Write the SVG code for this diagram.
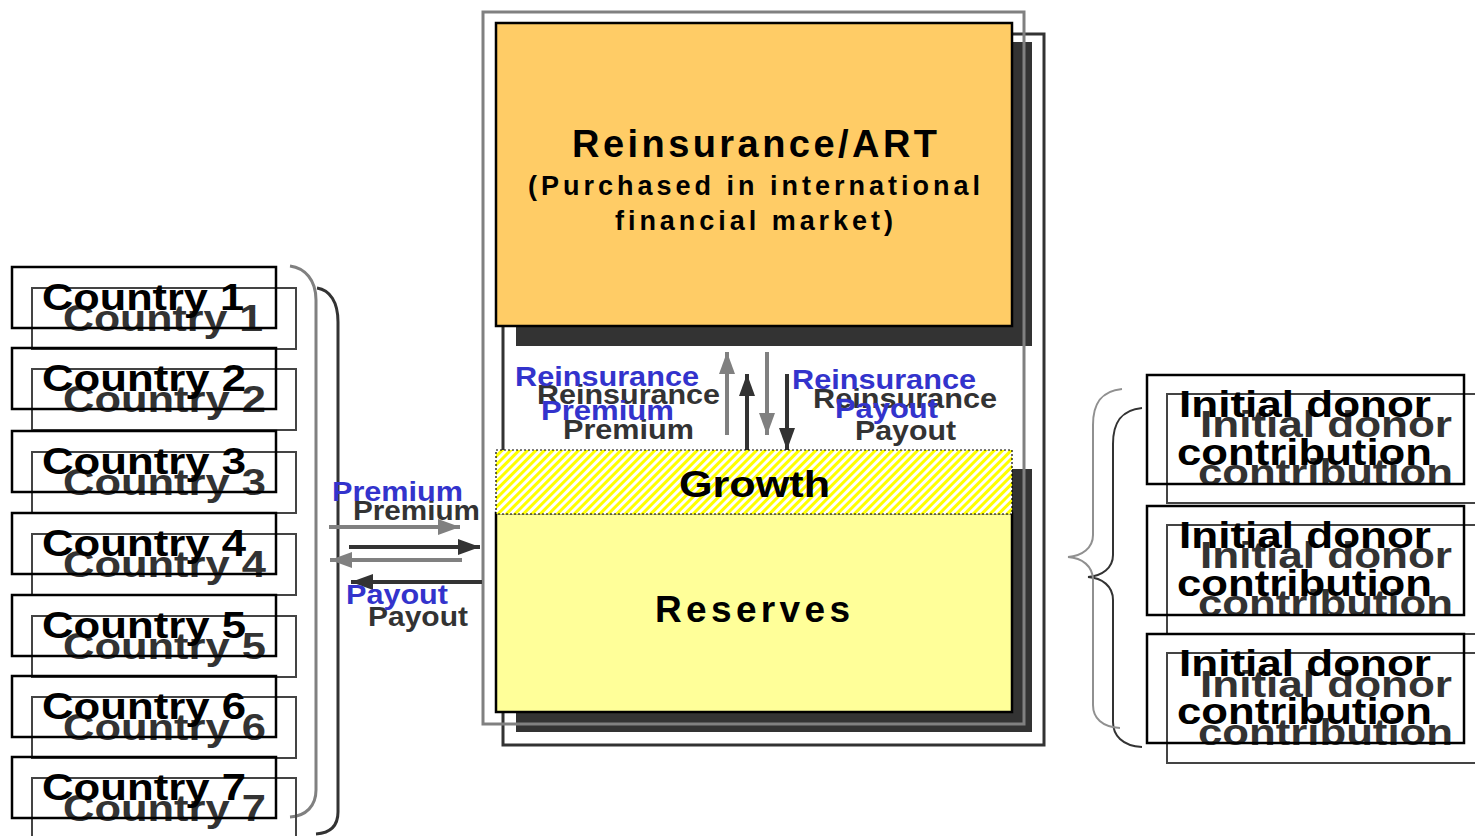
<svg xmlns="http://www.w3.org/2000/svg" width="1475" height="836" viewBox="0 0 1475 836">
<style>
text{font-family:"Liberation Sans",Arial,sans-serif;font-weight:bold}
.fr{fill:#000}
.sh{fill:#333}
.bl{fill:#3333CC}
.fbox{fill:none;stroke:#000;stroke-width:2.5}
.sbox{fill:none;stroke:#444;stroke-width:2}
.c{font-size:36px}
.lab{font-size:28px}
.big{font-size:37px}
.ga{stroke:#808080;stroke-width:4;fill:none}
.da{stroke:#333;stroke-width:4;fill:none}
</style>
<defs>
<marker id="hg" markerUnits="userSpaceOnUse" markerWidth="22" markerHeight="16" refX="22" refY="8" orient="auto"><path d="M0,0 L22,8 L0,16 z" fill="#808080"/></marker>
<marker id="hd" markerUnits="userSpaceOnUse" markerWidth="22" markerHeight="16" refX="22" refY="8" orient="auto"><path d="M0,0 L22,8 L0,16 z" fill="#333"/></marker>
<pattern id="hatch" patternUnits="userSpaceOnUse" width="6" height="6" patternTransform="rotate(45)"><rect width="6" height="6" fill="#fff"/><rect width="3" height="6" fill="#FFFF00"/></pattern>
</defs>
<rect width="1475" height="836" fill="#fff"/>

<!-- background frames and shadows -->
<g id="frames">
<rect x="503" y="34" width="541" height="711" fill="none" stroke="#333" stroke-width="3"/>
<rect x="516" y="42" width="516" height="304" fill="#333"/>
<rect x="516" y="469" width="516" height="263" fill="#333"/>
<rect x="483" y="12" width="541" height="712" fill="none" stroke="#808080" stroke-width="3"/>
</g>

<!-- braces -->
<g id="braces">
<path d="M317,288 C330,290 338,302 338,322 L338,812 C338,826 330,833 316,834" fill="none" stroke="#333" stroke-width="3"/>
<path d="M290,266 C305,268 316,280 316,300 L316,790 C316,806 306,816 290,817" fill="none" stroke="#808080" stroke-width="3"/>
<path d="M1142,408 C1120,410 1113,424 1113,444 L1113,555 C1113,568 1102,576 1088,577 C1102,578 1113,586 1113,600 L1113,722 C1113,735 1122,746 1142,747" fill="none" stroke="#333" stroke-width="2"/>
<path d="M1122,389 C1100,391 1093,405 1093,425 L1093,535 C1093,548 1082,556 1068,557 C1082,558 1093,566 1093,580 L1093,705 C1093,718 1102,727 1120,728" fill="none" stroke="#909090" stroke-width="2"/>
</g>

<!-- connectors -->
<g id="connectors">
<line class="da" x1="349" y1="547" x2="480" y2="547" marker-end="url(#hd)"/>
<line class="da" x1="482" y1="582" x2="351" y2="582" marker-end="url(#hd)"/>
<line class="ga" x1="329" y1="527" x2="460" y2="527" marker-end="url(#hg)"/>
<line class="ga" x1="462" y1="560" x2="330" y2="560" marker-end="url(#hg)"/>
<line class="da" x1="747" y1="450" x2="747" y2="374" marker-end="url(#hd)"/>
<line class="da" x1="787" y1="374" x2="787" y2="450" marker-end="url(#hd)"/>
<line class="ga" x1="727" y1="435" x2="727" y2="352" marker-end="url(#hg)"/>
<line class="ga" x1="767" y1="352" x2="767" y2="435" marker-end="url(#hg)"/>
</g>

<!-- connector labels -->
<g id="labels" class="lab">
<text class="sh" x="353" y="520" textLength="127" lengthAdjust="spacingAndGlyphs" style="font-size:27px">Premium</text>
<text class="bl" x="332" y="501" textLength="131" lengthAdjust="spacingAndGlyphs" style="font-size:27px">Premium</text>
<text class="sh" x="368" y="626" textLength="100" lengthAdjust="spacingAndGlyphs" style="font-size:27px">Payout</text>
<text class="bl" x="346" y="604" textLength="102" lengthAdjust="spacingAndGlyphs" style="font-size:27px">Payout</text>
<text class="sh" x="537" y="404" textLength="183" lengthAdjust="spacingAndGlyphs">Reinsurance</text>
<text class="sh" x="563" y="439" textLength="131" lengthAdjust="spacingAndGlyphs">Premium</text>
<text class="bl" x="515" y="386" textLength="184" lengthAdjust="spacingAndGlyphs">Reinsurance</text>
<text class="bl" x="541" y="420" textLength="133" lengthAdjust="spacingAndGlyphs">Premium</text>
<text class="sh" x="813" y="408" textLength="184" lengthAdjust="spacingAndGlyphs">Reinsurance</text>
<text class="sh" x="855" y="440" textLength="101" lengthAdjust="spacingAndGlyphs">Payout</text>
<text class="bl" x="792" y="389" textLength="184" lengthAdjust="spacingAndGlyphs">Reinsurance</text>
<text class="bl" x="835" y="418" textLength="103" lengthAdjust="spacingAndGlyphs">Payout</text>
</g>

<!-- reinsurance node -->
<g id="reinsurance">
<rect x="496" y="23" width="516" height="303" fill="#FFCC66" stroke="#000" stroke-width="2.5"/>
<text class="fr" x="572" y="157" textLength="365" style="font-size:38px">Reinsurance/ART</text>
<text class="fr" x="528" y="195" textLength="452" style="font-size:27px">(Purchased in international</text>
<text class="fr" x="615" y="230" textLength="278" style="font-size:27px">financial market)</text>
</g>

<!-- fund node -->
<g id="fund">
<rect x="496" y="513" width="516" height="199" fill="#FFFF99" stroke="#000" stroke-width="2.5"/>
<rect x="496" y="450" width="516" height="64" fill="url(#hatch)" stroke="#000" stroke-width="1.2" stroke-dasharray="2,2"/>
<text class="fr big" x="679" y="497" textLength="151" lengthAdjust="spacingAndGlyphs">Growth</text>
<text class="fr big" x="655" y="622" textLength="195">Reserves</text>
</g>

<!-- countries -->
<g id="country1">
<rect class="sbox" x="32" y="288" width="264" height="61"/>
<text class="sh c" x="63" y="331" textLength="200" lengthAdjust="spacingAndGlyphs">Country 1</text>
<rect class="fbox" x="12" y="267" width="264" height="61"/>
<text class="fr c" x="42" y="310" textLength="202" lengthAdjust="spacingAndGlyphs">Country 1</text>
</g>
<g id="country2">
<rect class="sbox" x="32" y="369" width="264" height="61"/>
<text class="sh c" x="63" y="412" textLength="203" lengthAdjust="spacingAndGlyphs">Country 2</text>
<rect class="fbox" x="12" y="348" width="264" height="61"/>
<text class="fr c" x="42" y="391" textLength="204" lengthAdjust="spacingAndGlyphs">Country 2</text>
</g>
<g id="country3">
<rect class="sbox" x="32" y="452" width="264" height="61"/>
<text class="sh c" x="63" y="495" textLength="203" lengthAdjust="spacingAndGlyphs">Country 3</text>
<rect class="fbox" x="12" y="431" width="264" height="61"/>
<text class="fr c" x="42" y="474" textLength="204" lengthAdjust="spacingAndGlyphs">Country 3</text>
</g>
<g id="country4">
<rect class="sbox" x="32" y="534" width="264" height="61"/>
<text class="sh c" x="63" y="577" textLength="203" lengthAdjust="spacingAndGlyphs">Country 4</text>
<rect class="fbox" x="12" y="513" width="264" height="61"/>
<text class="fr c" x="42" y="556" textLength="204" lengthAdjust="spacingAndGlyphs">Country 4</text>
</g>
<g id="country5">
<rect class="sbox" x="32" y="616" width="264" height="61"/>
<text class="sh c" x="63" y="659" textLength="203" lengthAdjust="spacingAndGlyphs">Country 5</text>
<rect class="fbox" x="12" y="595" width="264" height="61"/>
<text class="fr c" x="42" y="638" textLength="204" lengthAdjust="spacingAndGlyphs">Country 5</text>
</g>
<g id="country6">
<rect class="sbox" x="32" y="697" width="264" height="61"/>
<text class="sh c" x="63" y="740" textLength="203" lengthAdjust="spacingAndGlyphs">Country 6</text>
<rect class="fbox" x="12" y="676" width="264" height="61"/>
<text class="fr c" x="42" y="719" textLength="204" lengthAdjust="spacingAndGlyphs">Country 6</text>
</g>
<g id="country7">
<rect class="sbox" x="32" y="778" width="264" height="61"/>
<text class="sh c" x="63" y="821" textLength="203" lengthAdjust="spacingAndGlyphs">Country 7</text>
<rect class="fbox" x="12" y="757" width="264" height="61"/>
<text class="fr c" x="42" y="800" textLength="204" lengthAdjust="spacingAndGlyphs">Country 7</text>
</g>

<!-- donors -->
<g id="donor1">
<rect class="sbox" x="1167" y="394" width="320" height="109"/>
<text class="sh c" x="1200" y="437" textLength="252" lengthAdjust="spacingAndGlyphs">Initial donor</text>
<text class="sh c" x="1198" y="485" textLength="255" lengthAdjust="spacingAndGlyphs">contribution</text>
<rect class="fbox" x="1147" y="375" width="317" height="109"/>
<text class="fr c" x="1179" y="417" textLength="252" lengthAdjust="spacingAndGlyphs">Initial donor</text>
<text class="fr c" x="1177" y="465" textLength="255" lengthAdjust="spacingAndGlyphs">contribution</text>
</g>
<g id="donor2">
<rect class="sbox" x="1167" y="525" width="320" height="109"/>
<text class="sh c" x="1200" y="568" textLength="252" lengthAdjust="spacingAndGlyphs">Initial donor</text>
<text class="sh c" x="1198" y="616" textLength="255" lengthAdjust="spacingAndGlyphs">contribution</text>
<rect class="fbox" x="1147" y="506" width="317" height="109"/>
<text class="fr c" x="1179" y="548" textLength="252" lengthAdjust="spacingAndGlyphs">Initial donor</text>
<text class="fr c" x="1177" y="596" textLength="255" lengthAdjust="spacingAndGlyphs">contribution</text>
</g>
<g id="donor3">
<rect class="sbox" x="1167" y="653" width="320" height="110"/>
<text class="sh c" x="1200" y="697" textLength="252" lengthAdjust="spacingAndGlyphs">Initial donor</text>
<text class="sh c" x="1198" y="745" textLength="255" lengthAdjust="spacingAndGlyphs">contribution</text>
<rect class="fbox" x="1147" y="634" width="317" height="109"/>
<text class="fr c" x="1179" y="676" textLength="252" lengthAdjust="spacingAndGlyphs">Initial donor</text>
<text class="fr c" x="1177" y="724" textLength="255" lengthAdjust="spacingAndGlyphs">contribution</text>
</g>
</svg>
